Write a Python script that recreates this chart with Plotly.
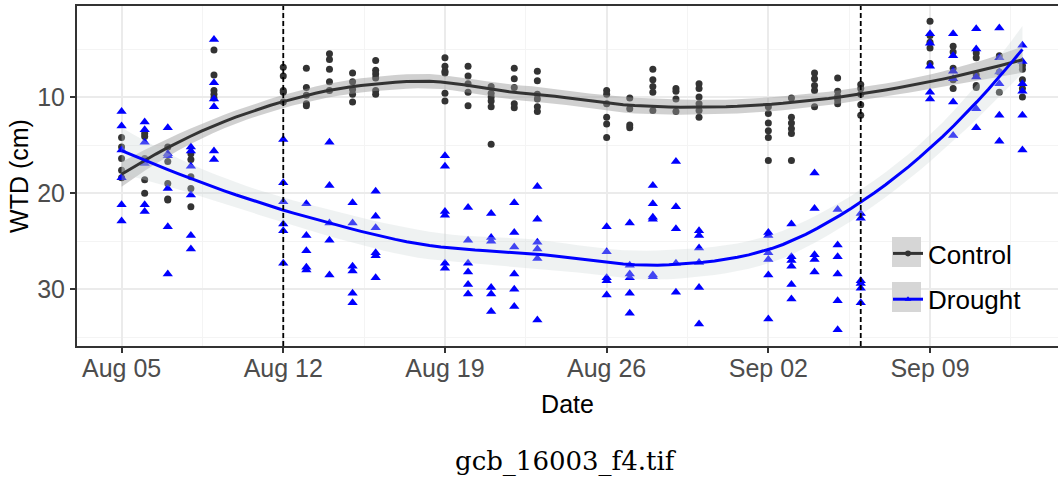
import numpy as np
import pandas as pd
import plotly.graph_objects as go

# ---------------- data ----------------
dates = ["2019-08-05", "2019-08-06", "2019-08-07", "2019-08-08", "2019-08-09",
         "2019-08-12", "2019-08-13", "2019-08-14", "2019-08-15", "2019-08-16",
         "2019-08-19", "2019-08-20", "2019-08-21", "2019-08-22", "2019-08-23",
         "2019-08-26", "2019-08-27", "2019-08-28", "2019-08-29", "2019-08-30",
         "2019-09-02", "2019-09-03", "2019-09-04", "2019-09-05", "2019-09-06",
         "2019-09-09", "2019-09-10", "2019-09-11", "2019-09-12", "2019-09-13"]

control_wtd = [
    [14.2, 15.2, 16.4, 17.6, 18.4],
    [13.8, 14.1, 16.4, 18.6, 20.0],
    [15.2, 16.7, 19.0, 20.6, 20.7],
    [15.9, 16.5, 18.3, 19.5, 21.4],
    [5.1, 7.7, 9.3, 9.7, 10.1],
    [6.9, 7.8, 9.3, 9.5, 10.5],
    [7.0, 9.0, 9.8, 10.7, 10.9],
    [5.5, 6.1, 7.1, 8.4, 9.3],
    [7.5, 8.4, 9.2, 9.7, 10.5],
    [6.2, 7.2, 7.6, 8.0, 9.3, 9.7],
    [5.9, 6.8, 7.3, 7.5, 9.6, 10.4],
    [6.8, 7.8, 8.6, 9.5, 10.9],
    [8.9, 9.6, 10.0, 10.4, 11.0, 14.9],
    [7.0, 8.1, 9.0, 10.7, 11.1],
    [7.3, 8.3, 9.7, 10.2, 11.0, 11.5],
    [9.3, 9.7, 10.7, 12.1, 12.8, 14.2],
    [10.1, 11.2, 12.9, 13.2],
    [7.1, 8.2, 8.9, 9.5, 11.4],
    [9.1, 9.4, 10.2, 11.5],
    [8.6, 9.1, 10.0, 10.7, 11.4, 12.1],
    [11.0, 11.7, 12.7, 13.5, 14.2, 16.6],
    [10.1, 12.1, 12.7, 13.3, 13.8, 16.6],
    [7.5, 8.1, 8.8, 9.3, 11.0],
    [8.0, 9.4, 9.9, 10.3, 10.7],
    [8.7, 9.1, 9.7, 10.8, 11.9],
    [2.1, 3.6, 4.3, 4.9, 6.5],
    [4.7, 5.3, 7.0, 8.2, 9.1],
    [5.4, 5.9, 7.7, 8.8, 9.0],
    [5.7, 7.4, 9.5],
    [6.7, 7.1, 8.2, 9.1, 10.0],
]

drought_wtd = [
    [11.5, 13.0, 15.5, 18.4, 21.2, 22.9],
    [12.6, 13.4, 14.7, 16.9, 21.2, 21.9],
    [13.2, 15.9, 16.1, 19.5, 23.5, 28.4],
    [15.2, 15.6, 17.2, 20.2, 24.4, 25.8],
    [4.0, 8.5, 10.2, 11.0, 15.6, 16.5],
    [14.4, 18.9, 20.9, 23.2, 23.9, 27.3],
    [21.1, 24.4, 26.0, 27.7, 28.0],
    [14.7, 19.2, 23.1, 24.9, 28.5],
    [21.0, 23.1, 27.6, 28.1, 30.4, 31.4],
    [19.8, 22.4, 23.6, 26.2, 26.5, 28.8],
    [16.1, 17.2, 21.9, 22.3, 27.3, 27.8],
    [21.5, 24.9, 27.3, 28.2, 29.5, 30.5],
    [22.1, 24.6, 25.0, 29.8, 30.5, 32.3],
    [21.0, 24.1, 25.6, 28.4, 30.0, 31.8],
    [19.3, 22.7, 25.1, 25.8, 26.8, 33.2],
    [23.5, 26.1, 28.8, 29.1, 30.6],
    [23.1, 27.5, 28.4, 28.8, 30.4, 32.5],
    [19.2, 21.1, 22.5, 22.7, 28.5, 28.7],
    [16.7, 21.4, 23.7, 27.3, 30.3],
    [23.9, 24.4, 25.7, 27.2, 29.8, 33.6],
    [24.1, 24.4, 26.2, 26.9, 28.5, 33.1],
    [23.2, 26.6, 27.0, 27.6, 29.5, 31.0],
    [17.9, 21.6, 26.4, 26.9, 28.2],
    [21.7, 25.4, 26.6, 28.4, 31.2, 34.2],
    [22.1, 22.6, 29.1, 29.4, 29.9, 31.4],
    [3.4, 4.4, 6.8, 9.5, 10.2],
    [3.4, 5.7, 7.3, 8.1, 10.5, 14.0],
    [2.9, 5.0, 7.9, 11.2, 13.2],
    [2.8, 5.9, 7.4, 8.6, 11.9, 14.6],
    [4.6, 6.3, 8.6, 9.4, 11.9, 15.5],
]

event_dates = ["2019-08-12", "2019-09-06"]
series_names = ["Control", "Drought"]
tick_dates = ["2019-08-05", "2019-08-12", "2019-08-19", "2019-08-26", "2019-09-02", "2019-09-09"]
y_ticks = [10, 20, 30]

# ---------------- helpers ----------------
base = pd.Timestamp(dates[0])


def flatten(groups):
    xs, ys = [], []
    for d, vals in zip(dates, groups):
        for v in vals:
            xs.append(pd.Timestamp(d))
            ys.append(v)
    return xs, ys


def loess(x, y, xs, span=0.75, cell=0.2):
    """loess (degree 2, tricube) with kd-tree vertices + cubic Hermite interpolation, like R."""
    n = len(x)
    q = int(np.floor(n * span))

    def rows(x0):
        d = np.abs(x - x0)
        h = np.sort(d)[q - 1]
        u = np.clip(d / h, 0, 1)
        w = (1 - u ** 3) ** 3
        X = np.column_stack([np.ones(n), x - x0, (x - x0) ** 2])
        XtW = X.T * w
        sol = np.linalg.solve(XtW @ X, XtW)
        return sol[0], sol[1]

    fc = int(np.floor(n * span * cell))
    srt = np.sort(x)
    margin = 0.005 * (srt[-1] - srt[0])
    verts = {srt[0] - margin, srt[-1] + margin}

    def split(pts):
        if len(pts) <= fc:
            return
        m = (len(pts) - 1) // 2
        while m > 0 and pts[m] == pts[m + 1]:
            m -= 1
        if pts[m] == pts[m + 1]:
            return
        v = (pts[m] + pts[m + 1]) / 2.0
        verts.add(v)
        split(pts[:m + 1])
        split(pts[m + 1:])

    split(srt)
    V = np.array(sorted(verts))
    vals, slopes = zip(*[rows(v) for v in V])
    vals = np.array(vals)
    slopes = np.array(slopes)

    def interp(x0):
        i = np.searchsorted(V, x0) - 1
        i = min(max(i, 0), len(V) - 2)
        a, b = V[i], V[i + 1]
        h = b - a
        t = (x0 - a) / h
        h00 = 2 * t ** 3 - 3 * t ** 2 + 1
        h10 = t ** 3 - 2 * t ** 2 + t
        h01 = -2 * t ** 3 + 3 * t ** 2
        h11 = t ** 3 - t ** 2
        return h00 * vals[i] + h10 * h * slopes[i] + h01 * vals[i + 1] + h11 * h * slopes[i + 1]

    L = np.array([interp(v) for v in x])
    res = y - L @ y
    M = np.eye(n) - L
    d1 = np.trace(M.T @ M)
    sigma = np.sqrt(np.sum(res ** 2) / d1)
    Ls = np.array([interp(v) for v in xs])
    fit = Ls @ y
    se = sigma * np.sqrt(np.sum(Ls ** 2, axis=1))
    return fit, se


fig = go.Figure()

styles = {
    "Control": dict(color="#333333", symbol="circle", size=7,
                    band="rgba(150,150,150,0.45)"),
    "Drought": dict(color="#0000FF", symbol="triangle-up", size=9,
                    band="rgba(205,215,215,0.32)"),
}

smooth = {}
for name, groups in zip(series_names, [control_wtd, drought_wtd]):
    xd, yd = flatten(groups)
    xnum = np.array([(t - base) / pd.Timedelta(days=1) for t in xd])
    ynum = np.array(yd)
    grid = np.linspace(xnum.min(), xnum.max(), 80)
    fit, se = loess(xnum, ynum, grid)
    tq = 1.975
    gx = [base + pd.Timedelta(days=float(g)) for g in grid]
    smooth[name] = (gx, fit, fit - tq * se, fit + tq * se)
    st = styles[name]
    fig.add_trace(go.Scatter(x=xd, y=yd, mode="markers", showlegend=False,
                             marker=dict(color=st["color"], symbol=st["symbol"], size=st["size"]),
                             hoverinfo="skip"))

for name in series_names:
    gx, fit, lo, hi = smooth[name]
    st = styles[name]
    fig.add_trace(go.Scatter(x=list(gx) + list(gx[::-1]), y=list(hi) + list(lo[::-1]),
                             fill="toself", fillcolor=st["band"], line=dict(width=0),
                             mode="lines", showlegend=False, hoverinfo="skip"))

for name in series_names:
    gx, fit, lo, hi = smooth[name]
    st = styles[name]
    fig.add_trace(go.Scatter(x=gx, y=fit, mode="lines", showlegend=False,
                             line=dict(color=st["color"], width=3), hoverinfo="skip"))

# legend entries
for name in series_names:
    st = styles[name]
    fig.add_trace(go.Scatter(x=[None], y=[None], mode="lines+markers", name=name,
                             legendgroup=name,
                             line=dict(color=st["color"], width=3),
                             marker=dict(color=st["color"], symbol=st["symbol"], size=6)))

# vertical dashed event lines
for d in event_dates:
    fig.add_shape(type="line", xref="x", yref="paper", x0=d, x1=d, y0=0, y1=1,
                  line=dict(color="black", width=1.8, dash="5px,3px"), layer="above")

# grey legend key backgrounds
W, H = 981.0, 340.0
for top in [237, 282]:
    fig.add_shape(type="rect", xref="paper", yref="paper",
                  x0=(892 - 77) / W, x1=(921 - 77) / W,
                  y0=(346 - top - 30) / H, y1=(346 - top) / H,
                  fillcolor="#d6d6d6", line=dict(width=0), layer="above")

x0 = base - pd.Timedelta(days=1.93)
x1 = base + pd.Timedelta(days=40.54)

fig.update_layout(
    width=1058, height=483,
    margin=dict(l=77, r=0, t=6, b=137),
    paper_bgcolor="white", plot_bgcolor="white",
    font=dict(family="Liberation Sans, Arial, sans-serif", color="black"),
    showlegend=True,
    legend=dict(x=(888 - 77) / W, y=(346 - 230) / H, xanchor="left", yanchor="top",
                bgcolor="rgba(0,0,0,0)", font=dict(size=26, color="black"),
                tracegroupgap=9, traceorder="grouped"),
    xaxis=dict(
        type="date", range=[x0, x1],
        tickmode="array", tickvals=tick_dates, tickformat="%b %d",
        ticks="outside", ticklen=5, tickcolor="#333333", tickwidth=1.5,
        ticklabelstandoff=-6,
        tickfont=dict(size=25, color="#4D4D4D"),
        showgrid=True, gridcolor="#EBEBEB", gridwidth=1.5,
        minor=dict(dtick=7 * 86400000, tick0="2019-08-08 12:00", showgrid=True,
                   gridcolor="#F4F4F4", gridwidth=1),
        showline=True, linecolor="#333333", linewidth=2, mirror=True,
        zeroline=False,
        title=dict(text="Date", font=dict(size=25, color="black"), standoff=14),
    ),
    yaxis=dict(
        range=[35.9, 0.52],
        tickmode="array", tickvals=y_ticks,
        ticks="outside", ticklen=5, tickcolor="#333333", tickwidth=1.5,
        tickfont=dict(size=25, color="#4D4D4D"),
        showgrid=True, gridcolor="#EBEBEB", gridwidth=1.5,
        minor=dict(tickvals=[5, 15, 25, 35], showgrid=True, gridcolor="#F4F4F4", gridwidth=1),
        showline=True, linecolor="#333333", linewidth=2, mirror=False,
        zeroline=False,
        title=dict(text="WTD (cm)", font=dict(size=25, color="black"), standoff=1),
    ),
    annotations=[dict(text="gcb_16003_f4.tif", xref="paper", yref="paper",
                      x=(566 - 77) / W, y=(346 - 461) / H, xanchor="center", yanchor="middle",
                      showarrow=False,
                      font=dict(family="DejaVu Serif, serif", size=26, color="black"))],
)

fig.write_html("out.html")
